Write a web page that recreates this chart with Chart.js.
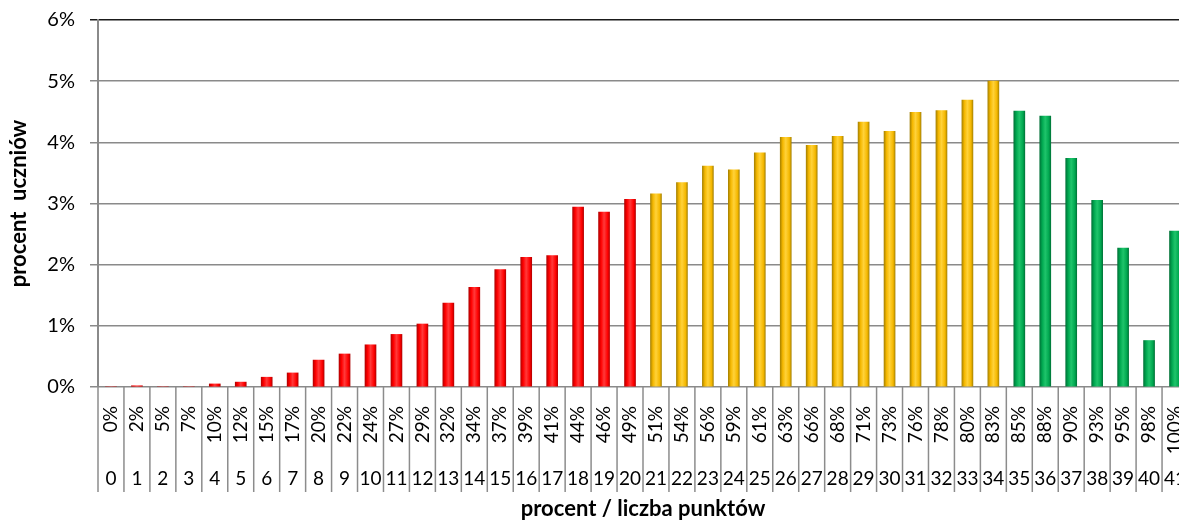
<!DOCTYPE html>
<html lang="pl">
<head>
<meta charset="UTF-8">
<title>Rozkład wyników</title>
<script src="https://cdn.jsdelivr.net/npm/chart.js@4.4.1/dist/chart.umd.min.js"></script>
<style>
    html, body { margin: 0; padding: 0; overflow: hidden; background: #fff; }
</style>
</head>
<body>
<canvas id="chart" width="1190" height="522"></canvas>
<script>
// liczba punktów
const pointLabels = ['0','1','2','3','4','5','6','7','8','9','10','11','12','13','14','15','16','17','18','19','20',
    '21','22','23','24','25','26','27','28','29','30','31','32','33','34','35','36','37','38','39','40','41'];
// procent wyniku
const percentLabels = ['0%','2%','5%','7%','10%','12%','15%','17%','20%','22%','24%','27%','29%','32%','34%','37%','39%','41%','44%','46%','49%',
    '51%','54%','56%','59%','61%','63%','66%','68%','71%','73%','76%','78%','80%','83%','85%','88%','90%','93%','95%','98%','100%'];
// procent uczniów (w %)
const studentShare = [0, 0.02, 0, 0, 0.05, 0.08, 0.16, 0.23, 0.44, 0.54, 0.69, 0.86, 1.03, 1.37, 1.63, 1.92, 2.12, 2.15, 2.94, 2.86, 3.07,
    3.16, 3.34, 3.61, 3.55, 3.83, 4.08, 3.95, 4.10, 4.33, 4.18, 4.49, 4.52, 4.69, 5.00,
    4.51, 4.43, 3.74, 3.05, 2.27, 0.76, 2.55];
const yTicks = [0, 1, 2, 3, 4, 5, 6];

// progi kolorów (ostatni punkt grupy)
const redUntil = 20;
const yellowUntil = 34;

Chart.defaults.font.family = 'Lato';
Chart.defaults.color = '#000';

function barColors(i) {
    if (i <= redUntil) return ['#a80000', '#ff0000', '#ff3a3a'];
    if (i <= yellowUntil) return ['#9c7a00', '#f5b800', '#ffd23a'];
    return ['#006b34', '#00a850', '#1fc46b'];
}

function barFill(ctx) {
    const c = barColors(ctx.dataIndex);
    const x = ctx.chart.scales.x;
    if (!x || !x.width) return c[1];
    const px = x.getPixelForValue(ctx.dataIndex);
    const g = ctx.chart.ctx.createLinearGradient(px - 6, 0, px + 6, 0);
    g.addColorStop(0, c[0]);
    g.addColorStop(0.25, c[1]);
    g.addColorStop(0.5, c[2]);
    g.addColorStop(0.8, c[1]);
    g.addColorStop(1, c[0]);
    return g;
}

// pionowe linie między etykietami osi X
const separators = {
    id: 'separators',
    afterDraw(chart) {
        const x = chart.scales.x;
        const x2 = chart.scales.x2;
        const ctx = chart.ctx;
        const n = x.ticks.length;
        const step = x.width / n;
        ctx.save();
        ctx.strokeStyle = '#8c8c8c';
        ctx.lineWidth = 1.5;
        for (let i = 0; i <= n; i++) {
            const px = x.left + i * step;
            ctx.beginPath();
            ctx.moveTo(px, x.top);
            ctx.lineTo(px, x2.top + 37);
            ctx.stroke();
        }
        ctx.restore();
    }
};

function noSidePadding(s) {
    s.paddingLeft = 0;
    s.paddingRight = 0;
}

new Chart(document.getElementById('chart'), {
    type: 'bar',
    data: {
        labels: percentLabels,
        datasets: [{
            data: studentShare,
            backgroundColor: barFill,
            borderWidth: 0,
            barThickness: 11
        }]
    },
    options: {
        responsive: false,
        animation: false,
        layout: { padding: { top: 20, right: 2, left: 0, bottom: 0 } },
        plugins: {
            legend: { display: false },
            tooltip: { enabled: false }
        },
        scales: {
            x: {
                type: 'category',
                position: 'bottom',
                weight: 0,
                offset: true,
                grid: { display: false },
                border: { display: false },
                ticks: {
                    autoSkip: false,
                    minRotation: 90,
                    maxRotation: 90,
                    padding: 11,
                    font: { size: 19 }
                },
                afterFit: s => { s.height = 68; noSidePadding(s); }
            },
            x2: {
                type: 'category',
                position: 'bottom',
                weight: 1,
                labels: pointLabels,
                offset: true,
                grid: { display: false },
                border: { display: false },
                ticks: {
                    autoSkip: false,
                    maxRotation: 0,
                    padding: 4,
                    font: { size: 19 }
                },
                title: {
                    display: true,
                    text: 'procent / liczba punktów',
                    font: { size: 22, weight: 'bold' },
                    padding: { top: 0, bottom: 0 }
                },
                afterFit: s => { s.height = 67; noSidePadding(s); }
            },
            y: {
                min: 0,
                max: 6,
                afterBuildTicks: s => { s.ticks = yTicks.map(v => ({ value: v })); },
                grid: {
                    color: c => c.tick && c.tick.value === 6 ? '#1a1a1a' : '#8a8a8a',
                    lineWidth: 1.5,
                    tickLength: 8
                },
                border: { color: '#8a8a8a', width: 2 },
                ticks: {
                    padding: 15,
                    font: { size: 20 },
                    callback: v => v + '%'
                },
                title: {
                    display: true,
                    text: 'procent  uczniów',
                    font: { size: 22, weight: 'bold' },
                    padding: { top: 6, bottom: 0 }
                },
                afterFit: s => {
                    s.width = 98;
                    s.paddingTop = 0;
                    s.paddingBottom = 0;
                }
            }
        }
    },
    plugins: [separators]
});
</script>
</body>
</html>
